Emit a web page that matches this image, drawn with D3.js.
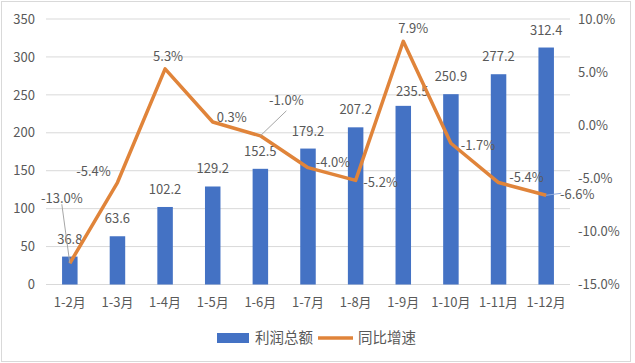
<!DOCTYPE html>
<html>
<head>
<meta charset="utf-8">
<script src="https://cdnjs.cloudflare.com/ajax/libs/d3/7.8.5/d3.min.js"></script>
<style>
	body{ margin:0; background:#fff; }
	text{ font-family:"Noto Sans CJK SC","Noto Sans",sans-serif; fill:#595959; }
</style>
</head>
<body>
<svg id="chart" width="635" height="363"></svg>
<script>
	// data
	var months = ["1-2月","1-3月","1-4月","1-5月","1-6月","1-7月","1-8月","1-9月","1-10月","1-11月","1-12月"];
	var profit = [36.8, 63.6, 102.2, 129.2, 152.5, 179.2, 207.2, 235.5, 250.9, 277.2, 312.4];
	var growth = [-13.0, -5.4, 5.3, 0.3, -1.0, -4.0, -5.2, 7.9, -1.7, -5.4, -6.6];
	var leftTicks = [0, 50, 100, 150, 200, 250, 300, 350];
	var rightTicks = [-15, -10, -5, 0, 5, 10];

	// label placement tweaks (dx, dy from the point)
	var barLabelOff = [[0,0],[0,0],[0,0],[0,0],[0,0],[0,0],[0,0],[9,3],[0,0],[0,0],[0,0]];
	var lineLabelOff = [[-8,-65],[-24,-11],[3,-12],[19,-5],[26,-35],[25,-5],[25,2],[10,-13],[27,2],[28,-5],[31,-1]];
	var leader = [true,false,false,false,true,false,false,false,false,false,true];

	var svg = d3.select("#chart");
	var L = 46, R = 570, T = 19, B = 284.5;

	svg.append("rect").attr("x",1.5).attr("y",1.5).attr("width",629).attr("height",360)
		.attr("fill","#fff").attr("stroke","#d9d9d9");

	var x = d3.scaleBand().domain(months).range([L, R]);
	var y = d3.scaleLinear().domain([0, 350]).range([B, T]);
	var y2 = d3.scaleLinear().domain([-15, 10]).range([B, T]);

	// grid
	svg.append("g").selectAll("line").data(leftTicks).enter().append("line")
		.attr("x1", L).attr("x2", R)
		.attr("y1", function(d){ return y(d); }).attr("y2", function(d){ return y(d); })
		.attr("stroke", "#d9d9d9").attr("stroke-width", 1);

	// left axis
	var ax = svg.append("g").attr("transform","translate(" + (L-11) + ",0)")
		.call(d3.axisLeft(y).tickValues(leftTicks).tickSize(0).tickPadding(0));
	ax.select(".domain").remove();
	ax.selectAll("text").style("font-size","13px").attr("fill","#595959").attr("font-family",null);

	// right axis
	var ax2 = svg.append("g").attr("transform","translate(578,0)")
		.call(d3.axisRight(y2).tickValues(rightTicks).tickSize(0).tickPadding(0)
			.tickFormat(function(d){ return d.toFixed(1) + "%"; }));
	ax2.select(".domain").remove();
	ax2.selectAll("text").style("font-size","13px").attr("fill","#595959").attr("font-family",null);

	// x axis
	var ax3 = svg.append("g").attr("transform","translate(0," + B + ")")
		.call(d3.axisBottom(x).tickSize(0).tickPadding(13));
	ax3.select(".domain").remove();
	ax3.selectAll("text").style("font-size","13px").attr("fill","#595959").attr("font-family",null);

	// bars
	var bw = 15.5;
	var cx = function(i){ return x(months[i]) + x.bandwidth()/2; };
	svg.append("g").selectAll("rect").data(profit).enter().append("rect")
		.attr("x", function(d,i){ return cx(i) - bw/2; })
		.attr("y", function(d){ return y(d); })
		.attr("width", bw)
		.attr("height", function(d){ return B - y(d); })
		.attr("fill", "#4472c4");

	svg.append("g").selectAll("text").data(profit).enter().append("text")
		.attr("x", function(d,i){ return cx(i) + barLabelOff[i][0]; })
		.attr("y", function(d,i){ return y(d) - 13 + barLabelOff[i][1]; })
		.attr("text-anchor","middle").style("font-size","13px")
		.text(function(d){ return d.toFixed(1); });

	// line
	var line = d3.line()
		.x(function(d,i){ return cx(i); })
		.y(function(d){ return y2(d); });
	svg.append("path").datum(growth)
		.attr("d", line).attr("fill","none")
		.attr("stroke","#e0843a").attr("stroke-width",3.5).attr("stroke-linejoin","round");

	// leader lines
	growth.forEach(function(d,i){
		if(!leader[i]) return;
		var px = cx(i), py = y2(d);
		var lx = px + lineLabelOff[i][0], ly = py + lineLabelOff[i][1];
		var ex, ey;
		if(i == 0){ ex = lx; ey = ly + 6; }
		else if(i == 4){ ex = lx; ey = ly + 10; }
		else { ex = lx - 16; ey = ly - 1; }
		svg.append("line").attr("x1",px).attr("y1",py).attr("x2",ex).attr("y2",ey)
			.attr("stroke", i == 10 ? "#8faadc" : "#a6a6a6").attr("stroke-width",1);
	});

	svg.append("g").selectAll("text").data(growth).enter().append("text")
		.attr("x", function(d,i){ return cx(i) + lineLabelOff[i][0]; })
		.attr("y", function(d,i){ return y2(d) + lineLabelOff[i][1] + 4.5; })
		.attr("text-anchor","middle").style("font-size","13px")
		.text(function(d){ return d.toFixed(1) + "%"; });

	// legend
	var lg = svg.append("g");
	lg.append("rect").attr("x",217).attr("y",333).attr("width",32).attr("height",10).attr("fill","#4472c4");
	lg.append("text").attr("x",255).attr("y",343).style("font-size","14.5px").text("利润总额");
	lg.append("line").attr("x1",318).attr("x2",353).attr("y1",338).attr("y2",338)
		.attr("stroke","#e0843a").attr("stroke-width",3.5);
	lg.append("text").attr("x",358).attr("y",343).style("font-size","14.5px").text("同比增速");
</script>
</body>
</html>
